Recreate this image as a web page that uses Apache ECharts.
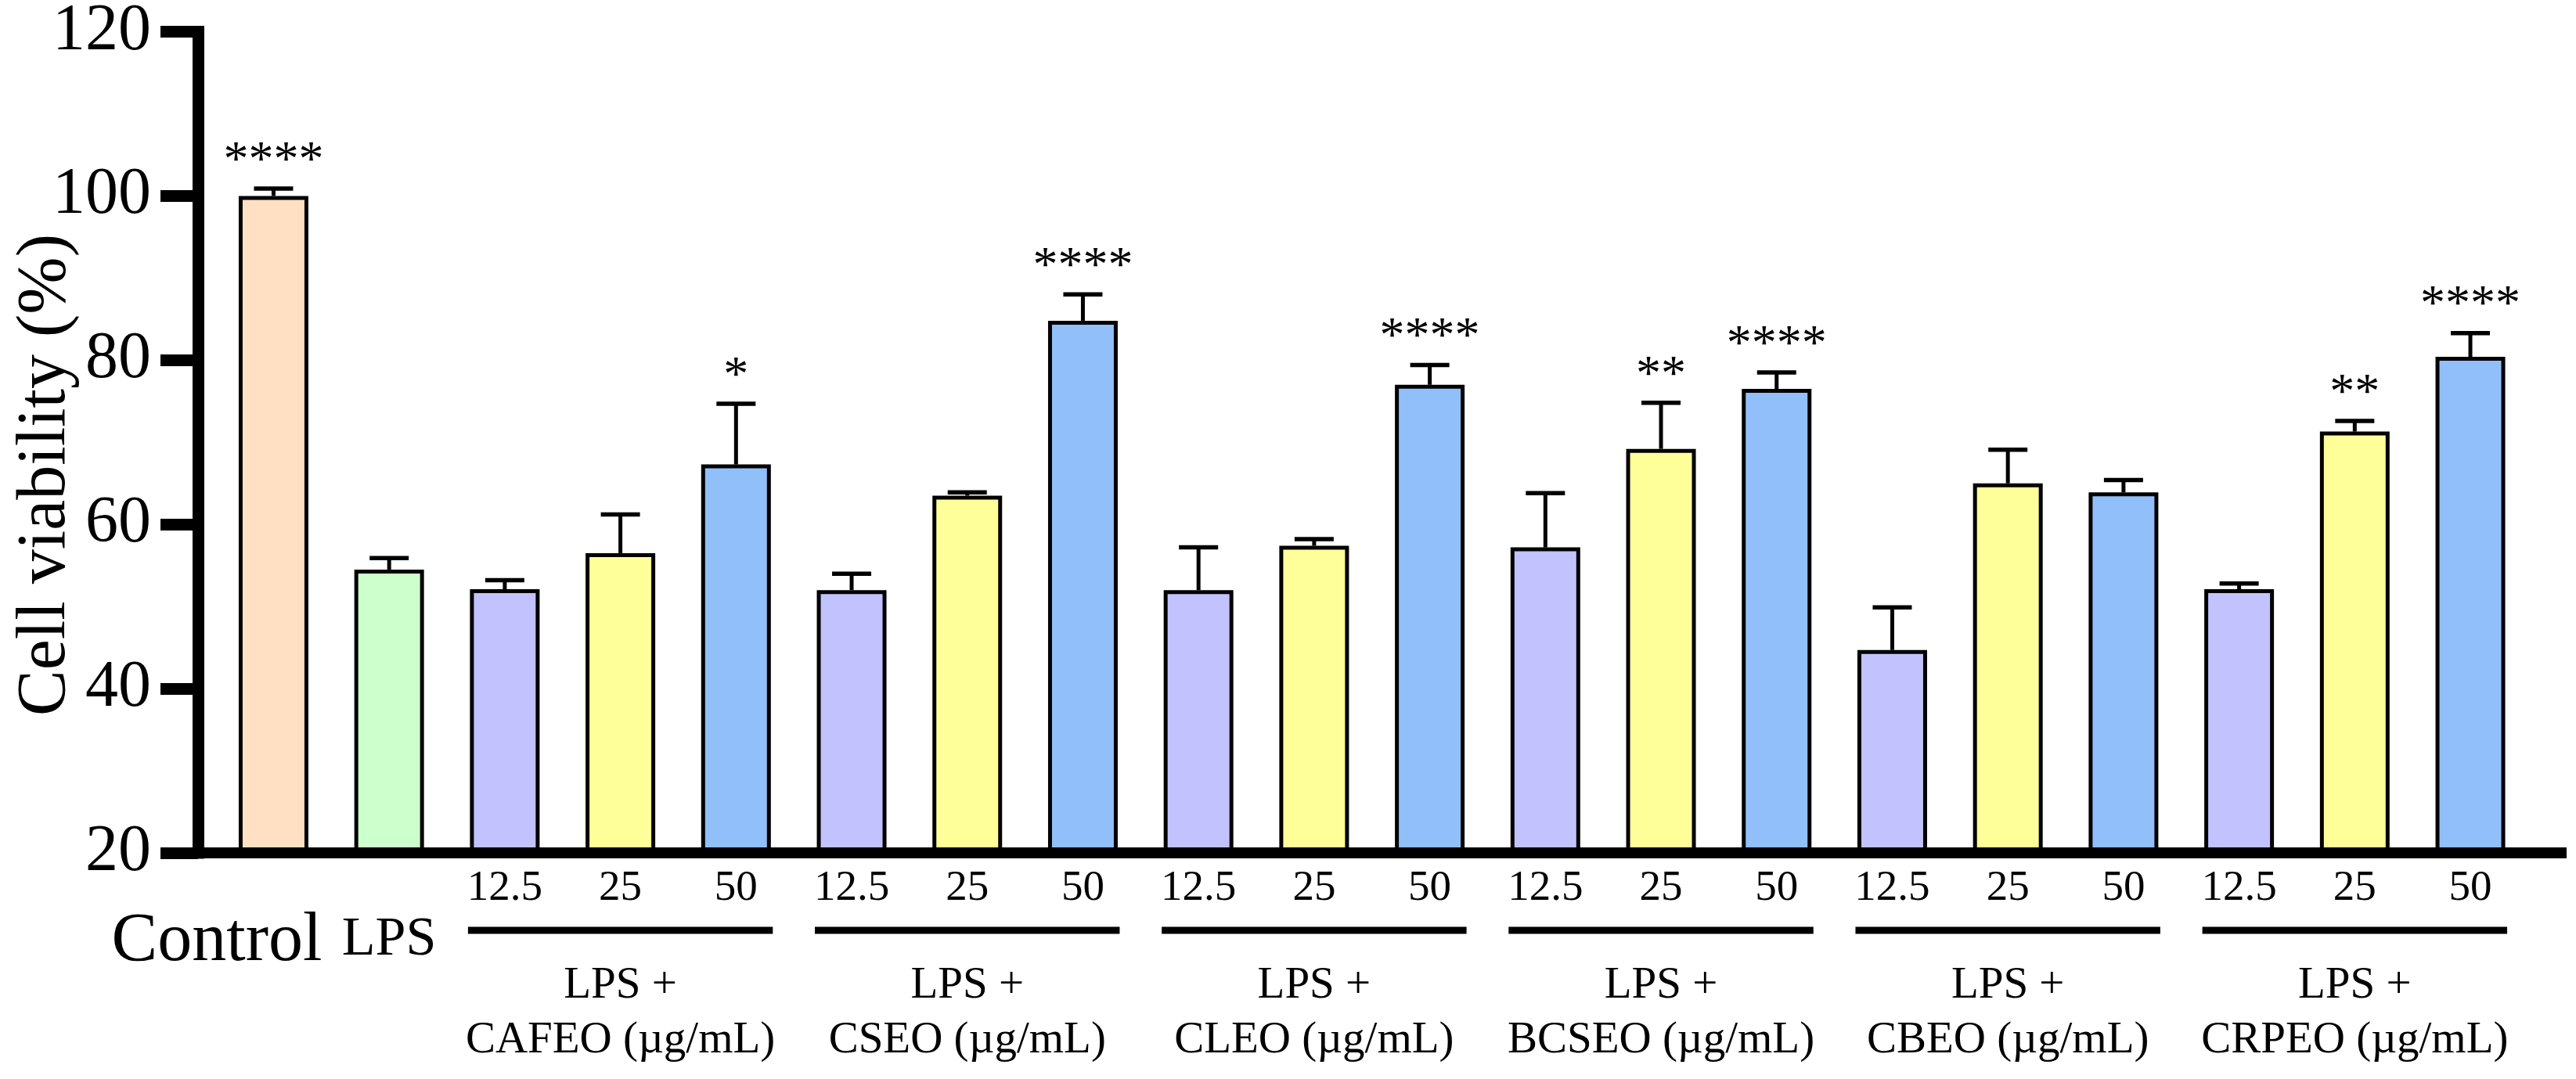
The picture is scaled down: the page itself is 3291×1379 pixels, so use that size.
<!DOCTYPE html>
<html>
<head>
<meta charset="utf-8">
<script src="https://cdn.jsdelivr.net/npm/echarts/dist/echarts.min.js"></script>
<style>
  html, body { margin: 0; padding: 0; background: #fff; }
  #chart { width: 3291px; height: 1379px; }
</style>
</head>
<body>
<div id="chart"></div>
<script>
// labels under each bar
var doseLabels = ['Control', 'LPS',
  '12.5', '25', '50', '12.5', '25', '50', '12.5', '25', '50',
  '12.5', '25', '50', '12.5', '25', '50', '12.5', '25', '50'];
// cell viability (%) and error (upper bar only)
var viability = [100, 54.5, 52.1, 56.5, 67.3, 52.0, 63.5, 84.8, 52.0, 57.4, 77.0,
  57.2, 69.2, 76.5, 44.7, 65.0, 63.9, 52.1, 71.3, 80.4];
var errors = [0.9, 1.4, 1.1, 4.7, 7.4, 2.0, 0.4, 3.2, 5.2, 0.8, 2.4,
  6.6, 5.6, 2.0, 5.2, 4.1, 1.5, 0.7, 1.3, 2.9];
var stars = ['****', '', '', '', '*', '', '', '****', '', '', '****',
  '', '**', '****', '', '', '', '', '**', '****'];
// groups of LPS + essential oil
var groupNames = ['CAFEO', 'CSEO', 'CLEO', 'BCSEO', 'CBEO', 'CRPEO'];
var groupStart = [2, 5, 8, 11, 14, 17];
var groupEnd = [4, 7, 10, 13, 16, 19];
var yTicks = [20, 40, 60, 80, 100, 120];

var FONT = '"Liberation Serif", "Times New Roman", serif';
var colorOf = {
  'Control': '#FFE0C2',
  'LPS': '#CCFFCC',
  '12.5': '#C2C2FF',
  '25': '#FFFF99',
  '50': '#91BFF9'
};
var yMin = yTicks[0], yMax = yTicks[yTicks.length - 1];
var halfBar = 47;

var chart = echarts.init(document.getElementById('chart'));

var option = {
  backgroundColor: '#fff',
  animation: false,
  grid: { left: 253, right: 19, top: 40.5, bottom: 289, containLabel: false, outerBoundsMode: 'none' },
  xAxis: {
    type: 'value',
    min: -0.653,
    max: 19.785,
    z: 5,
    axisLine: { show: true, onZero: false, lineStyle: { color: '#000', width: 14, cap: 'square' } },
    axisTick: { show: false },
    axisLabel: { show: false },
    splitLine: { show: false }
  },
  yAxis: {
    type: 'value',
    min: yMin,
    max: yMax,
    interval: 20,
    z: 5,
    axisLine: { show: true, onZero: false, lineStyle: { color: '#000', width: 15, cap: 'square' } },
    axisTick: { show: true, length: 48, lineStyle: { color: '#000', width: 15 } },
    axisLabel: {
      margin: 60, color: '#000', fontSize: 84, fontFamily: FONT,
      padding: [14, 0, 0, 0]
    },
    splitLine: { show: false }
  },
  graphic: [{
    type: 'text',
    x: 59,
    y: 607,
    rotation: Math.PI / 2,
    style: {
      text: 'Cell viability (%)',
      fill: '#000',
      font: '88px ' + FONT,
      align: 'center', verticalAlign: 'middle',
      textAlign: 'center', textVerticalAlign: 'middle'
    }
  }],
  series: [
    {
      type: 'bar',
      z: 2,
      barWidth: 89,
      data: viability.map(function (v, i) {
        return {
          value: [i, v],
          itemStyle: { color: colorOf[doseLabels[i]], borderColor: '#000', borderWidth: 5 }
        };
      })
    },
    {
      // error bars + significance stars
      type: 'custom',
      z: 3,
      silent: true,
      data: viability.map(function (v, i) { return [i, v, errors[i]]; }),
      renderItem: function (params, api) {
        var i = api.value(0), v = api.value(1), e = api.value(2);
        var base = api.coord([i, v]);
        var top = api.coord([i, v + e]);
        var children = [
          { type: 'line', shape: { x1: base[0], y1: base[1], x2: top[0], y2: top[1] },
            style: { stroke: '#000', lineWidth: 5 } },
          { type: 'line', shape: { x1: top[0] - 25, y1: top[1], x2: top[0] + 25, y2: top[1] },
            style: { stroke: '#000', lineWidth: 5.5 } }
        ];
        if (stars[i]) {
          children.push({
            type: 'text', x: top[0], y: top[1] - 2,
            style: {
              text: stars[i], fill: '#000', font: '64px ' + FONT,
              align: 'center', verticalAlign: 'bottom',
              textAlign: 'center', textVerticalAlign: 'bottom'
            }
          });
        }
        return { type: 'group', children: children };
      }
    },
    {
      // category labels below the axis
      type: 'custom',
      silent: true,
      clip: false,
      data: doseLabels.map(function (d, i) { return [i, yMin]; }),
      renderItem: function (params, api) {
        var i = api.value(0);
        var p = api.coord([i, api.value(1)]);
        var name = doseLabels[i];
        var st = { text: name, fill: '#000', font: '55px ' + FONT,
          align: 'center', verticalAlign: 'middle', textAlign: 'center', textVerticalAlign: 'middle' };
        var x = p[0], y = p[1] + 46;
        if (name === 'Control') {
          st.font = '88px ' + FONT; st.align = st.textAlign = 'right';
          x = p[0] + 62; y = p[1] + 114;
        } else if (name === 'LPS') {
          st.font = '70px ' + FONT;
          y = p[1] + 112;
        }
        return { type: 'text', x: x, y: y, style: st };
      }
    },
    {
      // group underline + group names
      type: 'custom',
      silent: true,
      clip: false,
      data: groupNames.map(function (g, k) { return [groupStart[k], yMin, groupEnd[k]]; }),
      renderItem: function (params, api) {
        var k = params.dataIndex;
        var p1 = api.coord([api.value(0), api.value(1)]);
        var p2 = api.coord([api.value(2), api.value(1)]);
        var cx = (p1[0] + p2[0]) / 2;
        var txt = { fill: '#000', font: '57px ' + FONT, align: 'center', verticalAlign: 'middle',
          textAlign: 'center', textVerticalAlign: 'middle' };
        return {
          type: 'group',
          children: [
            { type: 'line', shape: { x1: p1[0] - halfBar, y1: p1[1] + 99, x2: p2[0] + halfBar, y2: p1[1] + 99 },
              style: { stroke: '#000', lineWidth: 9 } },
            { type: 'text', x: cx, y: p1[1] + 170, style: Object.assign({ text: 'LPS +' }, txt) },
            { type: 'text', x: cx, y: p1[1] + 240,
              style: Object.assign({ text: groupNames[k] + ' (\u00b5g/mL)' }, txt) }
          ]
        };
      }
    }
  ]
};

chart.setOption(option);
</script>
</body>
</html>
